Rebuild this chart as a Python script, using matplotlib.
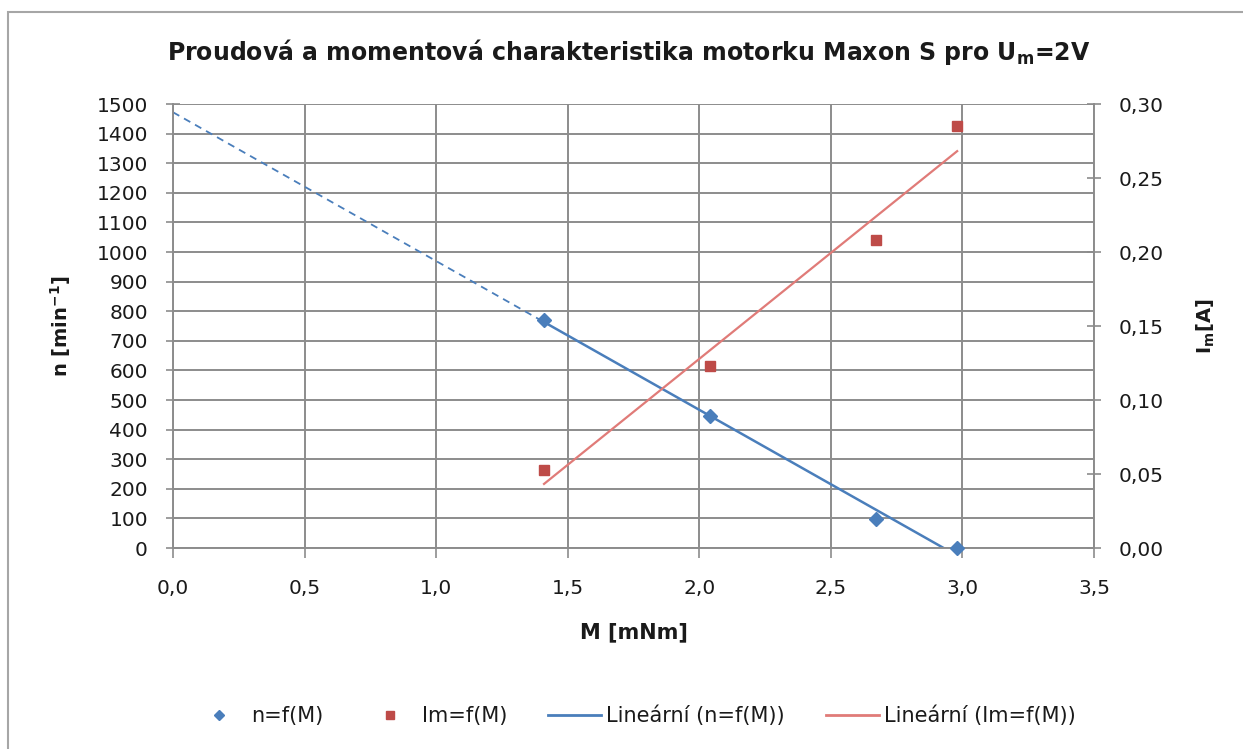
import numpy as np
import matplotlib
matplotlib.use("Agg")
import matplotlib.pyplot as plt
from matplotlib.patches import Rectangle
from matplotlib.ticker import FuncFormatter
from matplotlib.lines import Line2D

plt.rcParams['font.family'] = ['DejaVu Sans']
plt.rcParams['mathtext.fontset'] = 'dejavusans'

# Measured data
M = [1.41, 2.04, 2.67, 2.98]          # torque [mNm]
n = [770, 446, 98, 0]                 # speed [min^-1]
Im = [0.0527, 0.123, 0.208, 0.285]    # current [A]

x_ticks = [0.0, 0.5, 1.0, 1.5, 2.0, 2.5, 3.0, 3.5]
n_ticks = list(range(0, 1501, 100))
i_ticks = [0.00, 0.05, 0.10, 0.15, 0.20, 0.25, 0.30]

blue = '#4a7ebb'
red = '#be4b48'
red_line = '#e07b78'
grid_c = '#8c8c8c'
txt = '#1a1a1a'

W, H = 1243, 749
fig = plt.figure(figsize=(W / 100, H / 100), dpi=100)
fig.patches.append(Rectangle((8 / W, -0.01), 1.02, 1 - 12 / H + 0.01,
                             transform=fig.transFigure, fill=False,
                             edgecolor='#a6a6a6', linewidth=1.5))

ax = fig.add_axes([173 / W, (H - 548) / H, (1094 - 173) / W, (548 - 104) / H])
ax2 = ax.twinx()

ax.set_xlim(0, 3.5)
ax.set_ylim(0, 1500)
ax2.set_ylim(0, 0.30)

def comma(fmt):
    return FuncFormatter(lambda v, p: (fmt % v).replace('.', ','))

ax.set_xticks(x_ticks)
ax.xaxis.set_major_formatter(comma('%.1f'))
ax.set_yticks(n_ticks)
ax2.set_yticks(i_ticks)
ax2.yaxis.set_major_formatter(comma('%.2f'))

ax.grid(True, color=grid_c, linewidth=1.4)
ax.set_axisbelow(True)
for a in (ax, ax2):
    for s in a.spines.values():
        s.set_visible(False)
for a, side in ((ax, 'left'), (ax, 'bottom'), (ax2, 'right')):
    a.spines[side].set_visible(True)
    a.spines[side].set_color(grid_c)
    a.spines[side].set_linewidth(1.4)

ax.tick_params(axis='y', direction='inout', length=10, width=1.2, color=grid_c,
               labelsize=14.5, pad=13, labelcolor=txt)
ax.tick_params(axis='x', direction='out', length=7, width=1.2, color=grid_c,
               labelsize=14.5, pad=15, labelcolor=txt)
ax2.tick_params(axis='y', direction='inout', length=10, width=1.2, color=grid_c,
                labelsize=14.5, pad=13, labelcolor=txt)

# Linear trend lines (least squares), backward forecast dashed to M = 0
Ma = np.array(M)
kn, qn = np.polyfit(Ma, n, 1)
ki, qi = np.polyfit(Ma, Im, 1)
xs = np.linspace(Ma.min(), Ma.max(), 50)
xb = np.linspace(0, Ma.min(), 20)
ax.plot(xs, kn * xs + qn, color=blue, linewidth=1.8)
ax.plot(xb, kn * xb + qn, color=blue, linewidth=1.3, linestyle=(0, (4, 3)))
ax2.plot(xs, ki * xs + qi, color=red_line, linewidth=1.6)

ax.plot(M, n, linestyle='none', marker='D', color=blue, markersize=7,
        clip_on=False, zorder=5)
ax2.plot(M, Im, linestyle='none', marker='s', color=red, markersize=7,
         clip_on=False, zorder=5)

ax.set_xlabel('M [mNm]', fontsize=15, fontweight='bold', labelpad=18, color=txt)
ax.set_ylabel(r'n [min$^{\mathbf{-1}}$]', fontsize=14, fontweight='bold',
              labelpad=17, color=txt)
ax2.set_ylabel(r'I$_{\mathbf{m}}$[A]', fontsize=14, fontweight='bold',
               labelpad=22, color=txt)

fig.text(629 / W, 1 - 52 / H,
         r'Proudová a momentová charakteristika motorku Maxon S pro U$_{\mathbf{m}}$=2V',
         ha='center', va='center', fontsize=17, fontweight='bold', color=txt)

handles = [
    Line2D([], [], linestyle='none', marker='D', color=blue, markersize=5.5),
    Line2D([], [], linestyle='none', marker='s', color=red, markersize=6),
    Line2D([], [], color=blue, linewidth=2),
    Line2D([], [], color=red_line, linewidth=2),
]
labels = ['n=f(M)', 'Im=f(M)', 'Lineární (n=f(M))', 'Lineární (Im=f(M))']
fig.legend(handles, labels, loc='center', bbox_to_anchor=(634 / W, 1 - 716 / H),
           ncol=4, frameon=False, fontsize=15, handlelength=2.55,
           handletextpad=0.25, columnspacing=1.95, labelcolor=txt)

fig.savefig('out.png', dpi=100)
